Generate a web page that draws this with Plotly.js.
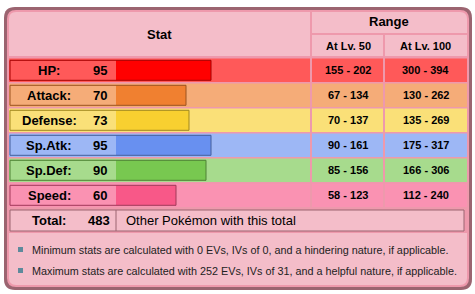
<!DOCTYPE html>
<html><head><meta charset="utf-8">
<script src="https://cdn.plot.ly/plotly-3.0.1.min.js"></script>
<style>html,body{margin:0;padding:0;background:#fff;}#chart{width:475px;height:294px;}</style>
</head><body><div id="chart"></div>
<script>
// ---- data ----
const statKeys = ["HP", "Attack", "Defense", "Sp.Atk", "Sp.Def", "Speed"];
const statLabels = ["HP:", "Attack:", "Defense:", "Sp.Atk:", "Sp.Def:", "Speed:"];
const baseStats = [95, 70, 73, 95, 90, 60];
const rangeLv50 = ["155 - 202", "67 - 134", "70 - 137", "90 - 161", "85 - 156", "58 - 123"];
const rangeLv100 = ["300 - 394", "130 - 262", "135 - 269", "175 - 317", "166 - 306", "112 - 240"];
const headerStat = "Stat";
const headerRange = "Range";
const headerLevels = ["At Lv. 50", "At Lv. 100"];
const totalLabel = "Total:";
const totalValue = 483;
const totalNote = "Other Pokémon with this total";
const notes = [
  "Minimum stats are calculated with 0 EVs, IVs of 0, and a hindering nature, if applicable.",
  "Maximum stats are calculated with 252 EVs, IVs of 31, and a helpful nature, if applicable."
];

// ---- styles ----
const barColors   = ["#FF0000", "#F08030", "#F8D030", "#6890F0", "#78C850", "#F85888"];
const lightColors = ["#FF5959", "#F5AC78", "#FAE078", "#9DB7F5", "#A7DB8D", "#FA92B2"];
const darkColors  = ["#A60000", "#9C531F", "#A1871F", "#445E9C", "#4E8234", "#A13959"];
const themeMain = "#EE99AC", themeLight = "#F4BDC9", themeDark = "#9B6470";
const FONT = "Liberation Sans, Arial, sans-serif";

const W = 475, H = 294;
const px = x => x / W;
const py = y => 1 - y / H;
const labelBoxLeft = 10, barZero = 116;

function rr(x0, y0, x1, y1, tl, tr, br, bl) {
  const X0 = px(x0), X1 = px(x1), Y0 = py(y0), Y1 = py(y1);
  const hx = v => v / W, hy = v => v / H;
  return `M${X0 + hx(tl)},${Y0} L${X1 - hx(tr)},${Y0} Q${X1},${Y0} ${X1},${Y0 - hy(tr)} ` +
         `L${X1},${Y1 + hy(br)} Q${X1},${Y1} ${X1 - hx(br)},${Y1} ` +
         `L${X0 + hx(bl)},${Y1} Q${X0},${Y1} ${X0},${Y1 + hy(bl)} ` +
         `L${X0},${Y0 - hy(tl)} Q${X0},${Y0} ${X0 + hx(tl)},${Y0} Z`;
}
function pathShape(path, fill) {
  return {type: "path", xref: "paper", yref: "paper", path: path, fillcolor: fill, line: {width: 0}, layer: "below"};
}
function rect(x0, y0, x1, y1, fill, line) {
  return {type: "rect", xref: "paper", yref: "paper", x0: px(x0), x1: px(x1), y0: py(y1), y1: py(y0),
          fillcolor: fill, line: line || {width: 0}, layer: "below"};
}

const shapes = [];
shapes.push(pathShape(rr(4, 7, 472, 290, 11, 11, 11, 11), themeDark));
shapes.push(pathShape(rr(7, 10, 469, 287, 9, 9, 9, 9), themeMain));
shapes.push(pathShape(rr(9, 12, 310, 56, 7, 0, 0, 0), themeLight));
shapes.push(pathShape(rr(312, 12, 467, 33, 0, 7, 0, 0), themeLight));
shapes.push(rect(312, 35, 383, 56, themeLight));
shapes.push(rect(385, 35, 467, 56, themeLight));
const cols = [[9, 310], [312, 383], [385, 467]];
statKeys.forEach((k, i) => {
  cols.forEach(c => {
    shapes.push({type: "rect", xref: "paper", yref: "y", x0: px(c[0]), x1: px(c[1]),
      y0: i - 0.47, y1: i + 0.47, fillcolor: lightColors[i], line: {width: 0}, layer: "below"});
  });
});
// total box
shapes.push(rect(10, 210, 464, 231, themeLight, {color: themeDark, width: 1}));
shapes.push({type: "line", xref: "paper", yref: "paper", x0: px(barZero), x1: px(barZero),
  y0: py(210), y1: py(231), line: {color: themeDark, width: 1}, layer: "below"});
// notes area
shapes.push(pathShape(rr(9, 233, 467, 285, 0, 0, 7, 7), themeLight));
notes.forEach((n, j) => {
  const cy = 249.5 + j * 21;
  shapes.push(rect(18, cy - 2.5, 23, cy + 2.5, "#5E8A9C"));
});

// ---- annotations ----
const ann = [];
function txt(text, x, y, opts) {
  ann.push(Object.assign({text: text, x: x, y: y, xref: "paper", yref: "paper", showarrow: false,
    xanchor: "center", yanchor: "middle", font: {family: FONT, size: 13, color: "#000"}}, opts || {}));
}
txt("<b>" + headerStat + "</b>", px(159), py(34));
txt("<b>" + headerRange + "</b>", px(389), py(22));
txt("<b>" + headerLevels[0] + "</b>", px(348), py(45.5), {font: {family: FONT, size: 11, color: "#000"}});
txt("<b>" + headerLevels[1] + "</b>", px(425.5), py(45.5), {font: {family: FONT, size: 11, color: "#000"}});
statKeys.forEach((k, i) => {
  txt("<b>" + statLabels[i] + "</b>", px(49), k, {yref: "y"});
  txt("<b>" + baseStats[i] + "</b>", px(108.5), k, {yref: "y", xanchor: "right"});
  txt("<b>" + rangeLv50[i] + "</b>", px(348), k, {yref: "y", font: {family: FONT, size: 11, color: "#000"}});
  txt("<b>" + rangeLv100[i] + "</b>", px(425.5), k, {yref: "y", font: {family: FONT, size: 11, color: "#000"}});
});
txt("<b>" + totalLabel + "</b>", px(49), py(220.5));
txt("<b>" + totalValue + "</b>", px(112), py(220.5), {xanchor: "right"});
txt(totalNote, px(124), py(220.5), {xanchor: "left"});
notes.forEach((n, j) => {
  txt(n, px(30), py(249.5 + j * 21), {xanchor: "left", font: {family: FONT, size: 10.8, color: "#222"}});
});

// ---- traces ----
const fillBars = {
  type: "bar", orientation: "h", y: statKeys, x: baseStats, base: 0, width: 0.8,
  marker: {color: barColors, line: {width: 0}}, hoverinfo: "skip"
};
const outlineBars = {
  type: "bar", orientation: "h", y: statKeys, x: baseStats.map(v => v + (barZero - labelBoxLeft)),
  base: -(barZero - labelBoxLeft), width: 0.8,
  marker: {color: "rgba(0,0,0,0)", line: {color: darkColors, width: 1}}, hoverinfo: "skip"
};

const layout = {
  width: W, height: H, margin: {l: 0, r: 0, t: 0, b: 0},
  paper_bgcolor: "#ffffff", plot_bgcolor: "rgba(0,0,0,0)",
  showlegend: false, barmode: "overlay",
  xaxis: {range: [-barZero, W - barZero], visible: false, fixedrange: true},
  yaxis: {type: "category", categoryorder: "array", categoryarray: statKeys,
          range: [8.948, -2.812], visible: false, fixedrange: true},
  shapes: shapes, annotations: ann
};
Plotly.newPlot("chart", [fillBars, outlineBars], layout, {displayModeBar: false, staticPlot: true});
</script>
</body></html>
